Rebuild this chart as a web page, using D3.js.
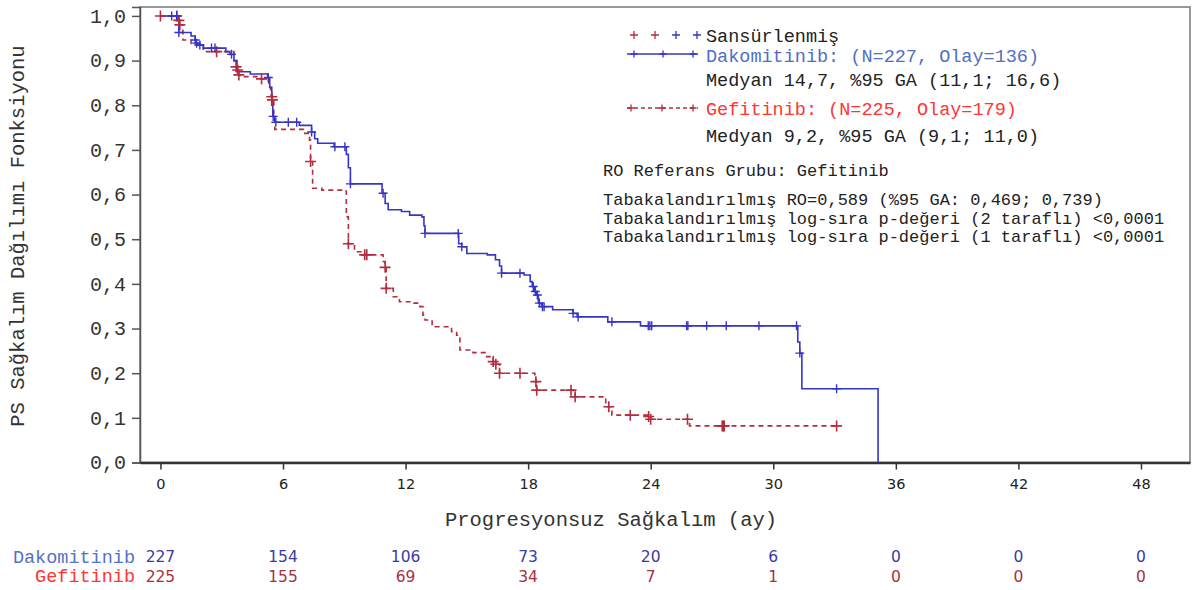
<!DOCTYPE html>
<html>
<head>
<meta charset="utf-8">
<script src="https://cdn.jsdelivr.net/npm/d3@7"></script>
<style>
  body { margin: 0; background: #fff; }
  svg { display: block; }
</style>
</head>
<body>
<div class="chart"></div>
<script>
// x axis ticks (months) and number at risk
const tick_months = [0, 6, 12, 18, 24, 30, 36, 42, 48];
const y_ticks = [0, 0.1, 0.2, 0.3, 0.4, 0.5, 0.6, 0.7, 0.8, 0.9, 1.0];
const risk_daco = [227, 154, 106, 73, 20, 6, 0, 0, 0];
const risk_gef = [225, 155, 69, 34, 7, 1, 0, 0, 0];

// Kaplan-Meier steps [month, survival]
const daco_steps = [[0,1],[0.85,0.99],[0.9,0.963],[1.5,0.955],[1.7,0.946],[1.75,0.939],[1.85,0.935],[2.1,0.928],
  [3.2,0.92],[3.4,0.914],[3.6,0.9],[3.75,0.875],[4.4,0.87],[5.25,0.862],[5.35,0.84],[5.45,0.8],[5.5,0.775],
  [5.6,0.762],[6.8,0.755],[7.4,0.74],[7.55,0.725],[7.7,0.715],[8.5,0.707],[9.1,0.69],[9.2,0.66],[9.3,0.624],
  [10.85,0.603],[11.0,0.58],[11.15,0.566],[11.8,0.562],[12.2,0.554],[12.8,0.55],[12.9,0.53],[12.95,0.513],
  [14.6,0.49],[14.75,0.483],[15.0,0.468],[16.0,0.465],[16.4,0.454],[16.6,0.44],[16.7,0.424],[17.8,0.42],
  [18.1,0.405],[18.2,0.394],[18.3,0.383],[18.4,0.375],[18.5,0.357],[18.65,0.349],[19.2,0.342],[20.2,0.334],
  [20.4,0.326],[21.9,0.315],[23.5,0.306],[31.2,0.27],[31.3,0.245],[31.4,0.165],[35.13,0]];
const daco_censor = [0.55,0.8,0.9,1.7,1.77,1.93,2.5,2.67,3.48,5.28,5.52,5.65,6.26,6.67,7.4,8.54,9.03,9.3,10.9,
  12.95,14.58,14.75,16.7,17.6,18.25,18.35,18.45,18.55,18.7,18.78,20.2,20.45,22.1,23.88,23.96,24.05,25.76,25.82,
  26.74,27.7,29.3,31.14,31.3,33.1];

const gef_steps = [[0,1],[0.9,0.99],[0.95,0.98],[1.1,0.946],[1.5,0.935],[2.1,0.92],[3.6,0.9],[3.7,0.886],
  [3.78,0.879],[3.84,0.868],[3.9,0.864],[4.9,0.859],[5.3,0.84],[5.4,0.823],[5.45,0.819],[5.48,0.812],[5.55,0.78],
  [5.6,0.746],[7.0,0.737],[7.3,0.722],[7.35,0.674],[7.45,0.614],[7.9,0.61],[9.0,0.608],[9.1,0.55],[9.2,0.49],
  [9.5,0.472],[10.0,0.465],[10.9,0.45],[11.0,0.437],[11.05,0.39],[11.4,0.371],[11.7,0.36],[12.3,0.357],
  [12.7,0.349],[12.85,0.33],[12.95,0.319],[13.3,0.304],[14.25,0.293],[14.5,0.285],[14.66,0.252],[15.3,0.246],
  [15.97,0.237],[16.29,0.226],[16.42,0.22],[16.6,0.2],[18.33,0.192],[18.38,0.181],[18.42,0.162],[20.2,0.155],
  [20.3,0.147],[21.8,0.125],[22.1,0.106],[23.9,0.103],[24.0,0.097],[25.9,0.082]];
const gef_censor = [0,0.8,0.9,0.95,2.75,3.7,3.78,3.84,4.95,5.45,5.48,7.35,9.2,10.0,10.1,11.0,11.05,16.29,16.42,
  16.6,17.6,18.38,18.42,20.1,20.3,21.95,23.0,23.9,24.0,25.8,27.5,27.55,27.6,33.1];
const gef_end = 33.1;

const blue = "#3535c8";
const red = "#b32d3c";
const mono = "'Liberation Mono', 'DejaVu Sans Mono', monospace";
const sans = "'DejaVu Sans', sans-serif";

const svg = d3.select(".chart")
    .append("svg")
    .attr("width", 1192)
    .attr("height", 590);

const x = d3.scaleLinear().domain([-1, 50.4]).range([140, 1190]);
const y = d3.scaleLinear().domain([0, 1.02]).range([462.5, 7]);

// frame
svg.append("rect")
    .attr("x", x(-1)).attr("y", y(1.02))
    .attr("width", x(50.4) - x(-1)).attr("height", y(0) - y(1.02))
    .attr("fill", "none").attr("stroke", "#777").attr("stroke-width", 1.5);

// y axis
const y_axis = svg.append("g")
    .attr("transform", `translate(${x(-1)},0)`)
    .call(d3.axisLeft(y).tickValues(y_ticks).tickSize(8).tickPadding(6)
        .tickFormat(d => d3.format(".1f")(d).replace(".", ",")));
y_axis.select(".domain").attr("stroke", "#555").attr("stroke-width", 1.5);
y_axis.selectAll("line").attr("stroke", "#555").attr("stroke-width", 1.5);
y_axis.selectAll("text").attr("font-family", mono).attr("font-size", 20).attr("fill", "#333");

// x axis
const x_axis = svg.append("g")
    .attr("transform", `translate(0,${y(0)})`)
    .call(d3.axisBottom(x).tickValues(tick_months).tickSize(7).tickPadding(9).tickSizeOuter(0));
x_axis.select(".domain").attr("stroke", "#333").attr("stroke-width", 2.5);
x_axis.selectAll("line").attr("stroke", "#333").attr("stroke-width", 1.5);
x_axis.selectAll("text").attr("font-family", sans).attr("font-size", 14.5).attr("fill", "#222");

// axis titles
svg.append("text")
    .attr("transform", "translate(24,236) rotate(-90)")
    .attr("text-anchor", "middle")
    .attr("font-family", mono).attr("font-size", 20.5).attr("fill", "#333")
    .text("PS Sağkalım Dağılımı Fonksiyonu");

svg.append("text")
    .attr("x", 611).attr("y", 526)
    .attr("text-anchor", "middle")
    .attr("font-family", mono).attr("font-size", 20.5).attr("fill", "#333")
    .text("Progresyonsuz Sağkalım (ay)");

// curves
const step_line = d3.line()
    .x(d => x(d[0]))
    .y(d => y(d[1]))
    .curve(d3.curveStepAfter);

function survival(steps, t) {
    let s = steps[0][1];
    steps.forEach(function(d) { if (d[0] <= t) s = d[1]; });
    return s;
}

const gef_path = gef_steps.concat([[gef_end, gef_steps[gef_steps.length - 1][1]]]);

svg.append("path")
    .attr("d", step_line(gef_path))
    .attr("fill", "none").attr("stroke", red).attr("stroke-width", 1.6)
    .attr("stroke-dasharray", "5,4");

svg.append("path")
    .attr("d", step_line(daco_steps))
    .attr("fill", "none").attr("stroke", blue).attr("stroke-width", 1.6);

function plus(px, py, r) {
    return `M${px - r},${py}H${px + r}M${px},${py - r}V${py + r}`;
}

svg.append("g").selectAll("path")
    .data(gef_censor)
    .enter()
    .append("path")
    .attr("d", d => plus(x(d), y(survival(gef_steps, d)), 5.5))
    .attr("stroke", red).attr("stroke-width", 1.6);

svg.append("g").selectAll("path")
    .data(daco_censor)
    .enter()
    .append("path")
    .attr("d", d => plus(x(d), y(survival(daco_steps, d)), 4.5))
    .attr("stroke", blue).attr("stroke-width", 1.4);

// legend
const lg = svg.append("g");
[[634, red], [655, red], [676, blue], [697, blue]].forEach(function(p) {
    lg.append("path").attr("d", plus(p[0], 35, 4)).attr("stroke", p[1]).attr("stroke-width", 1.3);
});
lg.append("line").attr("x1", 627).attr("x2", 698).attr("y1", 54).attr("y2", 54)
    .attr("stroke", blue).attr("stroke-width", 1.6);
[634, 663, 693].forEach(function(px) {
    lg.append("path").attr("d", plus(px, 54, 3.5)).attr("stroke", blue).attr("stroke-width", 1.3);
});
lg.append("line").attr("x1", 627).attr("x2", 698).attr("y1", 108).attr("y2", 108)
    .attr("stroke", red).attr("stroke-width", 1.6).attr("stroke-dasharray", "4,3");
[631, 662, 693].forEach(function(px) {
    lg.append("path").attr("d", plus(px, 108, 3.5)).attr("stroke", red).attr("stroke-width", 1.3);
});

const legend_text = [
    ["Sansürlenmiş", 706, 42, "#222", 18.5],
    ["Dakomitinib: (N=227, Olay=136)", 706, 62, "#4f6fc4", 18.5],
    ["Medyan 14,7, %95 GA (11,1; 16,6)", 706, 86, "#222", 18.5],
    ["Gefitinib: (N=225, Olay=179)", 706, 115, "#ff3535", 18.5],
    ["Medyan 9,2, %95 GA (9,1; 11,0)", 706, 142, "#222", 18.5],
    ["RO Referans Grubu: Gefitinib", 603, 176, "#222", 17],
    ["Tabakalandırılmış RO=0,589 (%95 GA: 0,469; 0,739)", 603, 205, "#222", 17],
    ["Tabakalandırılmış log-sıra p-değeri (2 taraflı) <0,0001", 603, 224, "#222", 17],
    ["Tabakalandırılmış log-sıra p-değeri (1 taraflı) <0,0001", 603, 242, "#222", 17]
];
lg.selectAll("text.lt")
    .data(legend_text)
    .enter()
    .append("text")
    .attr("class", "lt")
    .attr("x", d => d[1]).attr("y", d => d[2])
    .attr("fill", d => d[3])
    .attr("font-family", mono).attr("font-size", d => d[4])
    .text(d => d[0]);

// number at risk table
svg.append("text")
    .attr("x", 135).attr("y", 563).attr("text-anchor", "end")
    .attr("font-family", mono).attr("font-size", 18.5).attr("fill", "#5571c8")
    .text("Dakomitinib");
svg.append("text")
    .attr("x", 135).attr("y", 582).attr("text-anchor", "end")
    .attr("font-family", mono).attr("font-size", 18.5).attr("fill", "#ff3535")
    .text("Gefitinib");

svg.append("g").selectAll("text")
    .data(risk_daco)
    .enter()
    .append("text")
    .attr("x", (d, i) => x(tick_months[i])).attr("y", 562)
    .attr("text-anchor", "middle")
    .attr("font-family", sans).attr("font-size", 15.5).attr("fill", "#3b3ba6")
    .text(d => d);

svg.append("g").selectAll("text")
    .data(risk_gef)
    .enter()
    .append("text")
    .attr("x", (d, i) => x(tick_months[i])).attr("y", 582)
    .attr("text-anchor", "middle")
    .attr("font-family", sans).attr("font-size", 15.5).attr("fill", "#a8303f")
    .text(d => d);
</script>
</body>
</html>
